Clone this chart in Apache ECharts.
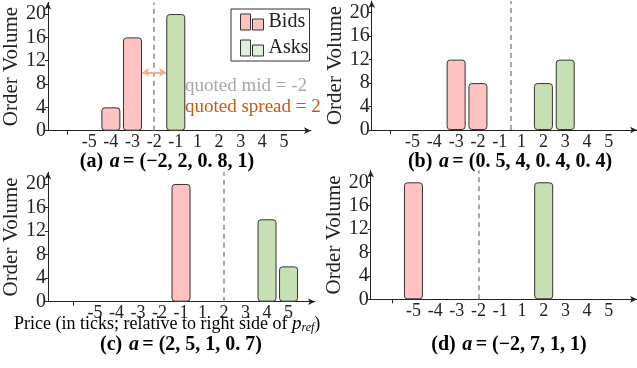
<!DOCTYPE html>
<html>
<head>
<meta charset="utf-8">
<script src="https://cdn.jsdelivr.net/npm/echarts@6/dist/echarts.min.js"></script>
<style>
  html, body { margin: 0; padding: 0; background: #fff; }
  #chart { width: 637px; height: 368px; }
</style>
</head>
<body>
<div id="chart"></div>
<script>
// price tick labels (no 0 tick on this axis)
var priceLabels = ['-5', '-4', '-3', '-2', '-1', '1', '2', '3', '4', '5']
var volumeTicks = [0, 4, 8, 12, 16, 20]

// [price, volume] for each panel
var bidsA = [[-4, 4], [-3, 16]]
var asksA = [[-1, 20]]
var bidsB = [[-3, 12], [-2, 8]]
var asksB = [[2, 8], [3, 12]]
var bidsC = [[-1, 20]]
var asksC = [[4, 14], [5, 6]]
var bidsD = [[-5, 20]]
var asksD = [[2, 20]]

var quotedMid = -2
var quotedSpread = 2

var serif = "'Liberation Serif', 'Times New Roman', serif"
var bidColor = '#ffc2c2'
var askColor = '#c6e0b4'

// axis slot of a price: prices skip 0
function slotOf(price) {
  return price < 0 ? price : price - 1
}

var panels = [
  { bids: bidsA, asks: asksA, left: 41, top: 2.4, width: 270, height: 128.3, min: -6.91, max: 5.25 },
  { bids: bidsB, asks: asksB, left: 371.7, top: 1, width: 270, height: 129, min: -6.87, max: 5.29 },
  { bids: bidsC, asks: asksC, left: 39.3, top: 172.2, width: 275.7, height: 129.5, min: -7.19, max: 5.23 },
  { bids: bidsD, asks: asksD, left: 370.7, top: 170.6, width: 270, height: 128.7, min: -6.97, max: 5.3 }
]

var labelSlots = priceLabels.map(function (l, i) { return i - 5 })

var grids = []
var xAxes = []
var yAxes = []
var series = []

panels.forEach(function (p, i) {
  grids.push({ left: p.left, top: p.top, width: p.width, height: p.height })
  xAxes.push({
    type: 'value',
    gridIndex: i,
    min: p.min,
    max: p.max,
    splitLine: { show: false },
    axisLine: {
      onZero: false,
      symbol: ['none', 'arrow'],
      symbolSize: [5, 7],
      lineStyle: { color: '#222', width: 1 }
    },
    axisTick: { customValues: [-6], length: 4, lineStyle: { color: '#222' } },
    axisLabel: {
      customValues: labelSlots,
      formatter: function (v) { return priceLabels[Math.round(v) + 5] },
      fontFamily: serif,
      fontSize: 18,
      color: '#222',
      margin: 3
    }
  })
  yAxes.push({
    type: 'value',
    gridIndex: i,
    min: 0,
    max: 22,
    name: 'Order Volume',
    nameLocation: 'middle',
    nameRotate: 90,
    nameGap: 19,
    nameTextStyle: { fontFamily: serif, fontSize: 21, color: '#222' },
    splitLine: { show: false },
    axisLine: {
      show: true,
      onZero: false,
      symbol: ['none', 'arrow'],
      symbolSize: [5, 7],
      lineStyle: { color: '#222', width: 1 }
    },
    axisTick: { show: true, customValues: volumeTicks, length: 3, lineStyle: { color: '#222' } },
    axisLabel: {
      customValues: volumeTicks,
      fontFamily: serif,
      fontSize: 20,
      color: '#222',
      margin: 2
    }
  })

  var bidSlots = p.bids.map(function (d) { return slotOf(d[0]) })
  var askSlots = p.asks.map(function (d) { return slotOf(d[0]) })
  var bestBid = Math.max.apply(null, bidSlots)
  var bestAsk = Math.min.apply(null, askSlots)
  var midSlot = (bestBid + bestAsk) / 2

  series.push({
    name: 'Bids',
    type: 'bar',
    xAxisIndex: i,
    yAxisIndex: i,
    barWidth: 19,
    barGap: '-100%',
    data: p.bids.map(function (d) { return [slotOf(d[0]), d[1]] }),
    itemStyle: { color: bidColor, borderColor: '#333', borderWidth: 1, borderRadius: 3 },
    markLine: {
      silent: true,
      symbol: 'none',
      label: { show: false },
      lineStyle: { color: '#8c8c8c', type: [5, 4], width: 1.5 },
      data: [{ xAxis: midSlot }]
    }
  })

  var askSeries = {
    name: 'Asks',
    type: 'bar',
    xAxisIndex: i,
    yAxisIndex: i,
    barWidth: 19,
    barGap: '-100%',
    data: p.asks.map(function (d) { return [slotOf(d[0]), d[1]] }),
    itemStyle: { color: askColor, borderColor: '#333', borderWidth: 1, borderRadius: 3 }
  }
  if (i === 0) {
    // spread arrow between best bid and best ask
    askSeries.markLine = {
      silent: true,
      symbol: ['arrow', 'arrow'],
      symbolSize: [7, 7],
      label: { show: false },
      lineStyle: { color: '#f4b183', type: 'solid', width: 2 },
      data: [[{ coord: [bestBid + 0.45, 10] }, { coord: [bestAsk - 0.45, 10] }]]
    }
  }
  series.push(askSeries)
})

var legendIcon = 'path://M0,0h10v16h-10z M12,5h11v11h-11z'

var capRich = {
  b: { fontFamily: serif, fontWeight: 'bold', fontSize: 20, color: '#111' },
  m: { fontFamily: serif, fontWeight: 'bold', fontStyle: 'italic', fontSize: 20, color: '#111' },
  g: { fontFamily: serif, fontWeight: 'bold', fontSize: 20, color: '#7f7f7f' },
  o: { fontFamily: serif, fontWeight: 'bold', fontSize: 20, color: '#c55a11' },
  p: { fontFamily: serif, fontWeight: 'bold', fontSize: 20, color: '#ff9a9a' },
  gr: { fontFamily: serif, fontWeight: 'bold', fontSize: 20, color: '#8fd05a' }
}

var option = {
  backgroundColor: '#fff',
  animation: false,
  grid: grids,
  xAxis: xAxes,
  yAxis: yAxes,
  legend: {
    left: 231,
    top: 9,
    orient: 'vertical',
    backgroundColor: '#fff',
    borderColor: '#333',
    borderWidth: 1,
    borderRadius: 0,
    padding: [3, 1, 3, 9],
    itemGap: 6,
    itemWidth: 23,
    itemHeight: 16,
    textStyle: { fontFamily: serif, fontSize: 20, color: '#222' },
    data: [
      { name: 'Bids', icon: legendIcon, itemStyle: { color: bidColor, borderColor: '#333', borderWidth: 1 } },
      { name: 'Asks', icon: legendIcon, itemStyle: { color: '#e2efda', borderColor: '#333', borderWidth: 1 } }
    ]
  },
  graphic: [
    {
      type: 'text', left: 185, top: 77,
      style: { text: 'quoted mid = ' + quotedMid, font: "19px 'Liberation Serif'", fill: '#a6a6a6' }
    },
    {
      type: 'text', left: 185, top: 98,
      style: { text: 'quoted spread = ' + quotedSpread, font: "19px 'Liberation Serif'", fill: '#c55a11' }
    },
    {
      type: 'text', x: 167, y: 162,
      style: {
        text: '{b|(a)}  {m|a} {b|= (}{g|−2}{b|, }{o|2}{b|, }{p|0. 8}{b|, }{gr|1}{b|)}',
        align: 'center', verticalAlign: 'middle', rich: capRich
      }
    },
    {
      type: 'text', x: 510, y: 162,
      style: {
        text: '{b|(b)}  {m|a} {b|= (0. 5, 4, 0. 4, 0. 4)}',
        align: 'center', verticalAlign: 'middle', rich: capRich
      }
    },
    {
      type: 'text', x: 14, y: 324,
      style: {
        text: '{n|Price (in ticks; relative to right side of }{i|p}{s|ref}{n|)}',
        verticalAlign: 'middle',
        rich: {
          n: { fontFamily: serif, fontSize: 18, color: '#111' },
          i: { fontFamily: serif, fontStyle: 'italic', fontSize: 19, color: '#111' },
          s: { fontFamily: serif, fontStyle: 'italic', fontSize: 12, color: '#111', padding: [8, 0, 0, 0] }
        }
      }
    },
    {
      type: 'text', x: 181, y: 345,
      style: {
        text: '{b|(c)}  {m|a} {b|= (2, 5, 1, 0. 7)}',
        align: 'center', verticalAlign: 'middle', rich: capRich
      }
    },
    {
      type: 'text', x: 509, y: 345,
      style: {
        text: '{b|(d)}  {m|a} {b|= (−2, 7, 1, 1)}',
        align: 'center', verticalAlign: 'middle', rich: capRich
      }
    }
  ],
  series: series
}

var myChart = echarts.init(document.getElementById('chart'))
myChart.setOption(option)
</script>
</body>
</html>
